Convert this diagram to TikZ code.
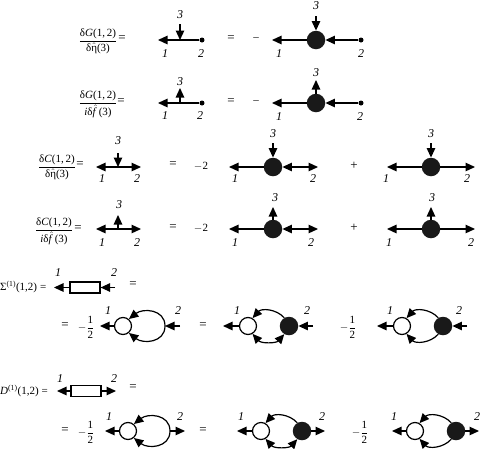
\documentclass[tikz,border=0pt]{standalone}
\usepackage{amsmath}
\usepackage{fontspec}
\setmainfont{Liberation Serif}
\usepackage{tikz}
\usetikzlibrary{arrows.meta}

\newcommand{\hatted}[1]{$\hat{\mbox{#1}}$}
\newcommand{\ratio}[2]{$\dfrac{\mbox{#1}}{\mbox{#2}}$}
\newcommand{\half}{$-\dfrac{\mbox{1}}{\mbox{2}}$}

\begin{document}
\begin{tikzpicture}[
  x=1pt,y=-1pt,
  txt/.style={inner sep=0pt,font=\fontsize{11}{13}\selectfont},
  eqs/.style={inner sep=0pt,font=\fontsize{13}{15}\selectfont},
  lbl/.style={inner sep=0pt,font=\fontsize{12}{14}\selectfont\itshape},
  dotnode/.style={circle,fill=black,inner sep=0pt,minimum size=5pt},
  blacknode/.style={circle,fill=black!90,inner sep=0pt,minimum size=18.5pt},
  whitenode/.style={circle,draw=black,fill=white,line width=1.2pt,inner sep=0pt,minimum size=17pt},
  boxnode/.style={draw=black,fill=white,line width=1.2pt,inner sep=0pt,minimum width=30pt,minimum height=11pt},
  arrow/.style={-{Triangle[length=9.5pt,width=8.5pt]},line width=1.2pt,color=black},
  biarrow/.style={{Triangle[length=9.5pt,width=8.5pt]}-{Triangle[length=9.5pt,width=8.5pt]},line width=1.2pt,color=black}
]
\useasboundingbox (0,0) rectangle (480,448);

% row 1
\node[txt] (fa) at (98,41) {\ratio{δ\textit{G}(1,\,2)}{δ\hatted{η}(3)}};
\node[eqs] (eqa) at (122,39) {=};
\coordinate (a1) at (158,40);
\node[dotnode] (a2) at (202,40) {};
\coordinate (am) at (180,40);
\coordinate (a3) at (180,24);
\draw[arrow] (a2) -- (a1);
\draw[arrow] (a3) -- (am);
\node[lbl] (la3) at (180,15) {3};
\node[lbl] (la1) at (165,54) {1};
\node[lbl] (la2) at (201,54) {2};
\node[eqs] (eqb) at (231,39) {=};
\node[txt] (mia) at (256,39) {–};
\node[blacknode] (b0) at (316,40) {};
\coordinate (b1) at (272,40);
\node[dotnode] (b2) at (361,40) {};
\coordinate (b3) at (316,16);
\draw[arrow] (b0) -- (b1);
\draw[arrow] (b2) -- (b0);
\draw[arrow] (b3) -- (b0);
\node[lbl] (lb3) at (316,6) {3};
\node[lbl] (lb1) at (279,54) {1};
\node[lbl] (lb2) at (361,54) {2};

% row 2
\node[txt] (fb) at (98,104) {\ratio{δ\textit{G}(1,\,2)}{\textit{i}δ\hatted{\textit{f}\,}(3)}};
\node[eqs] (eqc) at (121,102) {=};
\coordinate (c1) at (158,103);
\node[dotnode] (c2) at (202,103) {};
\coordinate (cm) at (180,103);
\coordinate (c3) at (180,88);
\draw[arrow] (c2) -- (c1);
\draw[arrow] (cm) -- (c3);
\node[lbl] (lc3) at (180,82) {3};
\node[lbl] (lc1) at (165,116) {1};
\node[lbl] (lc2) at (200,116) {2};
\node[eqs] (eqd) at (231,102) {=};
\node[txt] (mib) at (256,102) {–};
\node[blacknode] (d0) at (316,103) {};
\coordinate (d1) at (272,103);
\node[dotnode] (d2) at (361,103) {};
\coordinate (d3) at (316,80);
\draw[arrow] (d0) -- (d1);
\draw[arrow] (d2) -- (d0);
\draw[arrow] (d0) -- (d3);
\node[lbl] (ld3) at (316,73) {3};
\node[lbl] (ld1) at (279,117) {1};
\node[lbl] (ld2) at (360,117) {2};

% row 3
\node[txt] (fc) at (57,167) {\ratio{δ\textit{C}(1,\,2)}{δ\hatted{η}(3)}};
\node[eqs] (eqe) at (80,165) {=};
\coordinate (e1) at (96,167);
\coordinate (e2) at (141,167);
\coordinate (em) at (118,167);
\coordinate (e3) at (118,153);
\draw[arrow] (em) -- (e1);
\draw[arrow] (em) -- (e2);
\draw[arrow] (e3) -- (em);
\node[lbl] (le3) at (118,141) {3};
\node[lbl] (le1) at (102,179) {1};
\node[lbl] (le2) at (137,179) {2};
\node[eqs] (eqf) at (173,165) {=};
\node[txt] (nta) at (201,166) {$-$2};
\node[blacknode] (f0) at (273,167) {};
\coordinate (f1) at (229,167);
\coordinate (f2) at (318,167);
\coordinate (f3) at (273,143);
\draw[arrow] (f0) -- (f1);
\draw[biarrow] (f0) -- (f2);
\draw[arrow] (f3) -- (f0);
\node[lbl] (lf3) at (273,134) {3};
\node[lbl] (lf1) at (235,179) {1};
\node[lbl] (lf2) at (313,179) {2};
\node[eqs] (pla) at (354,166) {+};
\node[blacknode] (g0) at (431,167) {};
\coordinate (g1) at (387,167);
\coordinate (g2) at (475,167);
\coordinate (g3) at (431,143);
\draw[arrow] (g0) -- (g1);
\draw[arrow] (g0) -- (g2);
\draw[arrow] (g3) -- (g0);
\node[lbl] (lg3) at (431,134) {3};
\node[lbl] (lg1) at (386,179) {1};
\node[lbl] (lg2) at (467,179) {2};

% row 4
\node[txt] (fd) at (54,231) {\ratio{δ\textit{C}(1,\,2)}{\textit{i}δ\hatted{\textit{f}\,}(3)}};
\node[eqs] (eqg) at (78,229) {=};
\coordinate (h1) at (96,229);
\coordinate (h2) at (141,229);
\coordinate (hm) at (118,229);
\coordinate (h3) at (118,215);
\draw[arrow] (hm) -- (h1);
\draw[arrow] (hm) -- (h2);
\draw[arrow] (hm) -- (h3);
\node[lbl] (lh3) at (119,205) {3};
\node[lbl] (lh1) at (102,243) {1};
\node[lbl] (lh2) at (137,243) {2};
\node[eqs] (eqh) at (173,228) {=};
\node[txt] (ntb) at (201,228) {$-$2};
\node[blacknode] (i0) at (273,229) {};
\coordinate (i1) at (229,229);
\coordinate (i2) at (318,229);
\coordinate (i3) at (273,207);
\draw[arrow] (i0) -- (i1);
\draw[biarrow] (i0) -- (i2);
\draw[arrow] (i0) -- (i3);
\node[lbl] (li3) at (275,198) {3};
\node[lbl] (li1) at (235,243) {1};
\node[lbl] (li2) at (311,243) {2};
\node[eqs] (plb) at (354,228) {+};
\node[blacknode] (j0) at (431,229) {};
\coordinate (j1) at (387,229);
\coordinate (j2) at (475,229);
\coordinate (j3) at (431,207);
\draw[arrow] (j0) -- (j1);
\draw[arrow] (j0) -- (j2);
\draw[arrow] (j0) -- (j3);
\node[lbl] (lj3) at (432,198) {3};
\node[lbl] (lj1) at (389,243) {1};
\node[lbl] (lj2) at (471,243) {2};

% row 5
\node[txt,anchor=west] (sig) at (0,287) {Σ\textsuperscript{(1)}(1,2)\;=};
\node[boxnode] (k0) at (85,287.5) {};
\coordinate (k1) at (54,287.5);
\coordinate (k2) at (115,287.5);
\draw[arrow] (k0) -- (k1);
\draw[arrow] (k2) -- (k0);
\node[lbl] (lk1) at (58,273) {1};
\node[lbl] (lk2) at (114,273) {2};
\node[eqs] (eqi) at (133,285) {=};

% row 6
\node[eqs] (eqj) at (65,326) {=};
\node[txt] (fe) at (86,327) {\half};
\node[whitenode] (m0) at (123,326) {};
\coordinate (mr) at (165,326);
\coordinate (m1) at (100,326);
\coordinate (m2) at (180,326);
\draw[arrow] (m0) -- (m1);
\draw[arrow] (m2) -- (mr);
\draw[arrow] (mr) .. controls +(0,-17) and +(14,-11) .. (m0.50);
\draw[arrow] (mr) .. controls +(0,17) and +(14,11) .. (m0.-50);
\node[lbl] (lm1) at (108,311) {1};
\node[lbl] (lm2) at (178,311) {2};
\node[eqs] (eqk) at (203,326) {=};
\node[whitenode] (n0) at (248,326) {};
\node[blacknode] (n3) at (289,326) {};
\coordinate (n1) at (223,326);
\coordinate (n2) at (313,326);
\draw[arrow] (n0) -- (n1);
\draw[arrow] (n2) -- (n3);
\draw[arrow] (n3.120) .. controls +(-8,-9) and +(9,-10) .. (n0.60);
\draw[biarrow] (n3.-120) .. controls +(-8,9) and +(9,10) .. (n0.-60);
\node[lbl] (ln1) at (237,311) {1};
\node[lbl] (ln2) at (307,311) {2};
\node[txt] (ff) at (348,327) {\half};
\node[whitenode] (o0) at (402,326) {};
\node[blacknode] (o3) at (443,326) {};
\coordinate (o1) at (377,326);
\coordinate (o2) at (467,326);
\draw[arrow] (o0) -- (o1);
\draw[arrow] (o2) -- (o3);
\draw[arrow] (o3.120) .. controls +(-8,-9) and +(9,-10) .. (o0.60);
\draw[arrow] (o3.-120) .. controls +(-8,9) and +(9,10) .. (o0.-60);
\node[lbl] (lo1) at (390,311) {1};
\node[lbl] (lo2) at (459,311) {2};

% row 7
\node[txt,anchor=west] (dee) at (0,391) {\textit{D}\textsuperscript{(1)}(1,2)\;=};
\node[boxnode] (p0) at (86,391) {};
\coordinate (p1) at (57,391);
\coordinate (p2) at (116,391);
\draw[arrow] (p0) -- (p1);
\draw[arrow] (p0) -- (p2);
\node[lbl] (lp1) at (60,379) {1};
\node[lbl] (lp2) at (114,379) {2};
\node[eqs] (eql) at (133,388) {=};

% row 8
\node[eqs] (eqm) at (65,431) {=};
\node[txt] (fg) at (86,432) {\half};
\node[whitenode] (q0) at (128,431) {};
\coordinate (qr) at (170,431);
\coordinate (q1) at (105,431);
\coordinate (q2) at (185,431);
\draw[arrow] (q0) -- (q1);
\draw[arrow] (qr) -- (q2);
\draw[arrow] (qr) .. controls +(0,-17) and +(14,-11) .. (q0.50);
\draw[arrow] (qr) .. controls +(0,17) and +(14,11) .. (q0.-50);
\node[lbl] (lq1) at (109,417) {1};
\node[lbl] (lq2) at (180,417) {2};
\node[eqs] (eqn) at (203,431) {=};
\node[whitenode] (r0) at (261,431) {};
\node[blacknode] (r3) at (302,431) {};
\coordinate (r1) at (237,431);
\coordinate (r2) at (325,431);
\draw[arrow] (r0) -- (r1);
\draw[arrow] (r3) -- (r2);
\draw[arrow] (r3.120) .. controls +(-8,-9) and +(9,-10) .. (r0.60);
\draw[biarrow] (r3.-120) .. controls +(-8,9) and +(9,10) .. (r0.-60);
\node[lbl] (lr1) at (241,417) {1};
\node[lbl] (lr2) at (322,417) {2};
\node[txt] (fh) at (360,432) {\half};
\node[whitenode] (s0) at (415,431) {};
\node[blacknode] (s3) at (456,431) {};
\coordinate (s1) at (392,431);
\coordinate (s2) at (479,431);
\draw[arrow] (s0) -- (s1);
\draw[arrow] (s3) -- (s2);
\draw[arrow] (s3.120) .. controls +(-8,-9) and +(9,-10) .. (s0.60);
\draw[arrow] (s3.-120) .. controls +(-8,9) and +(9,10) .. (s0.-60);
\node[lbl] (ls1) at (394,417) {1};
\node[lbl] (ls2) at (477,417) {2};
\end{tikzpicture}
\end{document}
